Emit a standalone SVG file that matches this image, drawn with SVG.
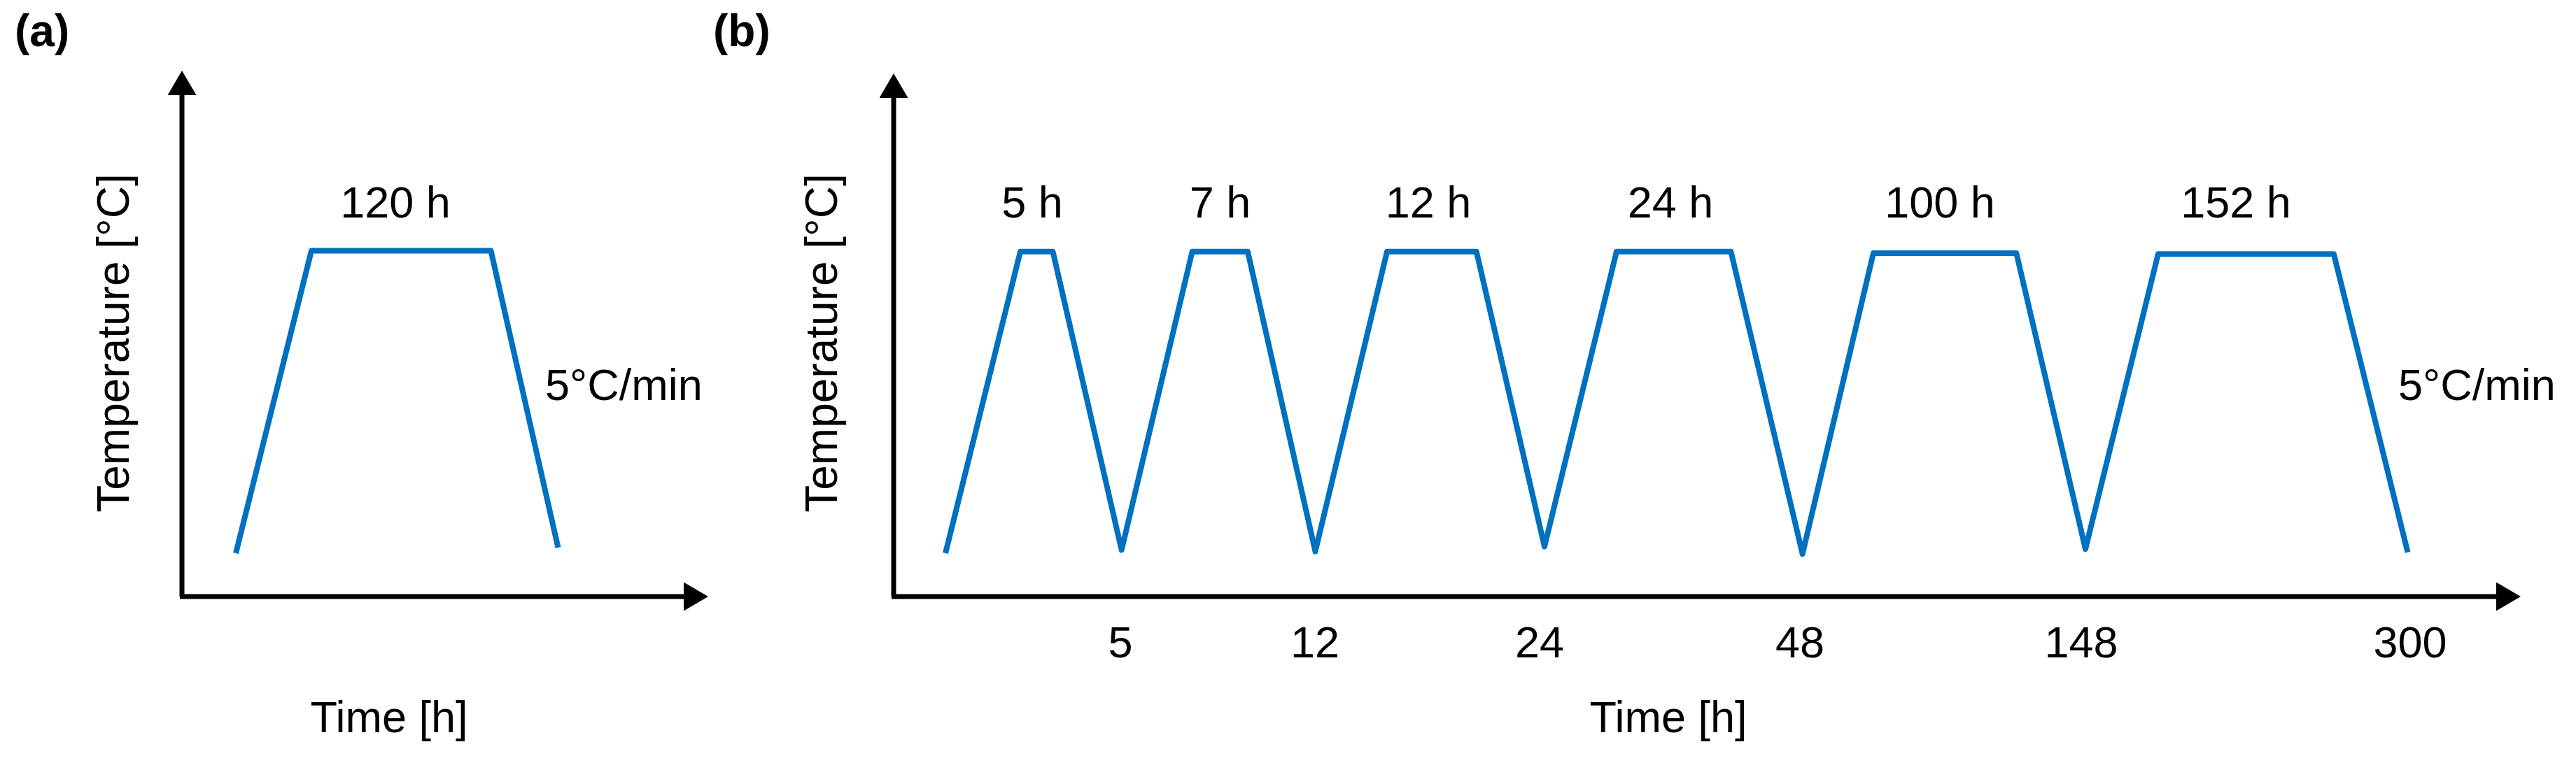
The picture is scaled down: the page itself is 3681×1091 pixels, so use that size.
<svg xmlns="http://www.w3.org/2000/svg" width="3681" height="1091" viewBox="0 0 3681 1091">
<style>
  .lbl { font-family: "Liberation Sans", Arial, sans-serif; font-size: 63px; fill: #000; }
  .ylbl { font-size: 64px; }
  .mid { text-anchor: middle; }
  .panel { font-family: "Liberation Sans", Arial, sans-serif; font-size: 64px; font-weight: bold; fill: #000; }
  .axis { stroke: #000; stroke-width: 7; fill: none; marker-end: url(#arrow); }
  .curve { stroke: #0070C0; stroke-width: 8; fill: none; stroke-linejoin: round; }
</style>
<defs>
  <marker id="arrow" markerUnits="userSpaceOnUse" markerWidth="36" markerHeight="42" refX="0" refY="20.5" orient="auto">
    <path d="M0,0 L35,20.5 L0,41 Z" fill="#000"/>
  </marker>
</defs>
<rect width="3681" height="1091" fill="#fff"/>

<g id="panel-a">
  <text class="panel" x="21" y="66">(a)</text>
  <g id="axes-a">
    <path class="axis" d="M260,853 L260,136"/>
    <path class="axis" d="M257,853 L977,853"/>
  </g>
  <g id="curve-a">
    <polyline class="curve" points="337,791 445,358.5 701.5,358.5 797.5,783"/>
  </g>
  <text class="lbl mid" x="565" y="311">120 h</text>
  <text class="lbl" x="779" y="572">5°C/min</text>
  <text class="lbl mid" x="556" y="1047">Time [h]</text>
  <text class="lbl ylbl mid" transform="translate(183.5,490.5) rotate(-90)">Temperature [°C]</text>
</g>

<g id="panel-b">
  <text class="panel" x="1019" y="66">(b)</text>
  <g id="axes-b">
    <path class="axis" d="M1277,853 L1277,140"/>
    <path class="axis" d="M1274,853 L3567,853"/>
  </g>
  <g id="curve-b">
    <polyline class="curve" points="1351,791 1458,359.8 1504.5,359.8 1602.7,786.4 1703.6,359.8 1783,359.8 1879.5,788.5 1982,359.8 2109.8,359.8 2207,781.5 2310,359.8 2473.5,359.8 2575.7,792 2677,361.9 2881.3,361.9 2980,785 3083.9,363.3 3334.9,363.3 3440.6,789.8"/>
  </g>
  <text class="lbl mid" x="1475" y="311">5 h</text>
  <text class="lbl mid" x="1743.5" y="311">7 h</text>
  <text class="lbl mid" x="2041" y="311">12 h</text>
  <text class="lbl mid" x="2387" y="311">24 h</text>
  <text class="lbl mid" x="2772" y="311">100 h</text>
  <text class="lbl mid" x="3195" y="311">152 h</text>
  <text class="lbl" x="3427" y="572">5°C/min</text>
  <text class="lbl mid" x="1601" y="939.5">5</text>
  <text class="lbl mid" x="1879" y="939.5">12</text>
  <text class="lbl mid" x="2200" y="939.5">24</text>
  <text class="lbl mid" x="2572" y="939.5">48</text>
  <text class="lbl mid" x="2974" y="939.5">148</text>
  <text class="lbl mid" x="3444" y="939.5">300</text>
  <text class="lbl mid" x="2384" y="1047">Time [h]</text>
  <text class="lbl ylbl mid" transform="translate(1196,490.5) rotate(-90)">Temperature [°C]</text>
</g>
</svg>
